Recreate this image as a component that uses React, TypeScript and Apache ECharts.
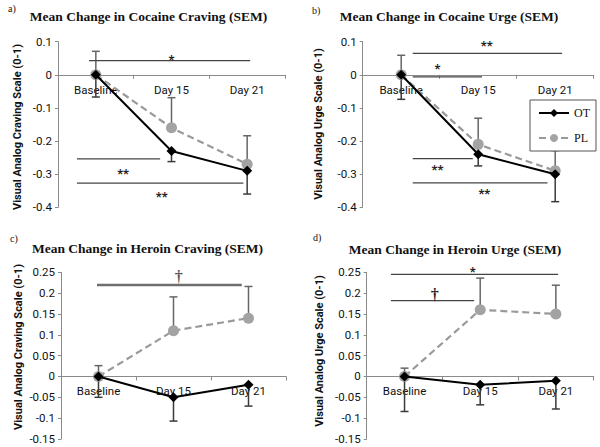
import React, { useEffect, useRef } from "react";
import * as echarts from "echarts";

const categories = ["Baseline", "Day 15", "Day 21"];

// Panel a: Cocaine Craving
const aOT = [0, -0.23, -0.29];
const aPL = [0, -0.16, -0.27];
const aPLUpper = [0.071, -0.069, -0.184];
const aOTLower = [-0.067, -0.262, -0.36];
const aSig = [
  [-0.09, 2.04, 0.043, 1.0, 0.054],
  [-0.25, 0.85, -0.254, 0.36, -0.29],
  [-0.25, 1.95, -0.327, 0.87, -0.357],
];
const aSigText = ["*", "**", "**"];

// Panel b: Cocaine Urge
const bOT = [0, -0.24, -0.3];
const bPL = [0, -0.21, -0.29];
const bPLUpper = [0.059, -0.131, -0.229];
const bOTLower = [-0.074, -0.275, -0.383];
const bSig = [
  [0.15, 2.09, 0.065, 1.11, 0.097],
  [0.15, 1.05, -0.006, 0.47, 0.0275],
  [0.15, 0.93, -0.253, 0.47, -0.278],
  [0.15, 1.9, -0.326, 1.08, -0.35],
];
const bSigText = ["**", "*", "**", "**"];

// Panel c: Heroin Craving
const cOT = [0, -0.05, -0.02];
const cPL = [0, 0.11, 0.14];
const cPLUpper = [0.026, 0.191, 0.216];
const cOTLower = [-0.05, -0.107, -0.071];
const cSig = [[-0.02, 1.91, 0.2195, 1.07, 0.239]];
const cSigText = ["†"];

// Panel d: Heroin Urge
const dOT = [0, -0.02, -0.01];
const dPL = [0, 0.16, 0.15];
const dPLUpper = [0.02, 0.236, 0.219];
const dOTLower = [-0.084, -0.068, -0.078];
const dSig = [
  [-0.18, 2.03, 0.245, 0.9, 0.258],
  [-0.18, 0.92, 0.182, 0.4, 0.197],
];
const dSigText = ["*", "†"];

const titles = [
  "Mean Change in Cocaine Craving (SEM)",
  "Mean Change in Cocaine Urge (SEM)",
  "Mean Change in Heroin Craving (SEM)",
  "Mean Change in Heroin Urge (SEM)",
];
const letters = ["a)", "b)", "c)", "d)"];
const yNames = [
  "Visual Analog Craving Scale (0-1)",
  "Visual Analog Urge Scale (0-1)",
  "Visual Analog Craving Scale (0-1)",
  "Visual Analog Urge Scale (0-1)",
];
const yRanges = [
  [-0.4, 0.1, 0.1],
  [-0.4, 0.1, 0.1],
  [-0.15, 0.25, 0.05],
  [-0.15, 0.25, 0.05],
];

const panels = [
  { ot: aOT, pl: aPL, up: aPLUpper, lo: aOTLower, sig: aSig, sigText: aSigText },
  { ot: bOT, pl: bPL, up: bPLUpper, lo: bOTLower, sig: bSig, sigText: bSigText },
  { ot: cOT, pl: cPL, up: cPLUpper, lo: cOTLower, sig: cSig, sigText: cSigText },
  { ot: dOT, pl: dPL, up: dPLUpper, lo: dOTLower, sig: dSig, sigText: dSigText },
];

// layout
const grids = [
  { left: 58, top: 41.7, width: 227, height: 165.6 },
  { left: 362.7, top: 41.7, width: 231, height: 165.6 },
  { left: 61, top: 272.3, width: 225, height: 166.7 },
  { left: 366.7, top: 272.3, width: 227, height: 166.7 },
];
const titlePos = [
  [148.5, 16],
  [449, 16],
  [147.5, 248],
  [455, 249],
];
const letterPos = [
  [8, 8],
  [312, 10],
  [10, 238],
  [313, 237],
];
const yNamePos = [
  [17, 127],
  [318, 124],
  [18, 347],
  [319, 351],
];

export default function App() {
  const ref = useRef<HTMLDivElement>(null);
  useEffect(() => {
    if (!ref.current) return;
    const chart = echarts.init(ref.current, undefined, { renderer: "svg" });

    const xAxes: any[] = [];
    const yAxes: any[] = [];
    const series: any[] = [];
    const graphics: any[] = [];

    panels.forEach((p, i) => {
      const [mn, mx, iv] = yRanges[i];
      // lift the category axis from the grid bottom up to the value 0
      const zeroOffset = -(grids[i].height * (0 - mn)) / (mx - mn);
      xAxes.push({
        type: "category",
        gridIndex: i,
        data: categories,
        boundaryGap: true,
        position: "bottom",
        offset: zeroOffset,
        axisLine: { show: true, onZero: false, lineStyle: { color: "#8a8a8a", width: 1 } },
        axisTick: { show: true, length: 4, inside: false, lineStyle: { color: "#8a8a8a" } },
        axisLabel: {
          margin: 9,
          fontSize: 11.5,
          fontFamily: "Roboto",
          color: "#111",
        },
        splitLine: { show: false },
      });
      xAxes.push({
        type: "value",
        gridIndex: i,
        show: false,
        min: -0.5,
        max: 2.5,
        position: "top",
        axisLine: { onZero: false },
      });
      yAxes.push({
        type: "value",
        gridIndex: i,
        min: mn,
        max: mx,
        interval: iv,
        position: "left",
        axisLine: { show: true, onZero: false, lineStyle: { color: "#8a8a8a", width: 1 } },
        axisTick: { show: true, length: 3, lineStyle: { color: "#8a8a8a" } },
        axisLabel: {
          margin: 6,
          fontSize: 11.5,
          fontFamily: "Roboto",
          color: "#111",
          formatter: (v: number) => String(Math.round(v * 100) / 100),
        },
        splitLine: { show: false },
      });

      // error bars (behind markers)
      const errData: number[][] = [];
      p.up.forEach((u, k) => errData.push([k, p.pl[k], u, 0]));
      p.lo.forEach((l, k) => errData.push([k, p.ot[k], l, 1]));
      series.push({
        type: "custom",
        name: "err" + i,
        xAxisIndex: 2 * i,
        yAxisIndex: i,
        z: 1,
        silent: true,
        data: errData,
        renderItem: (params: any, api: any) => {
          const x = api.value(0);
          const p1 = api.coord([x, api.value(1)]);
          const p2 = api.coord([x, api.value(2)]);
          const stroke = api.value(3) === 0 ? "#666" : "#3a3a3a";
          const cap = 4;
          return {
            type: "group",
            children: [
              {
                type: "line",
                shape: { x1: p1[0], y1: p1[1], x2: p2[0], y2: p2[1] },
                style: { stroke, lineWidth: 1.5 },
              },
              {
                type: "line",
                shape: { x1: p2[0] - cap, y1: p2[1], x2: p2[0] + cap, y2: p2[1] },
                style: { stroke, lineWidth: 1.5 },
              },
            ],
          };
        },
      });

      series.push({
        type: "line",
        name: "PL",
        xAxisIndex: 2 * i,
        yAxisIndex: i,
        data: p.pl,
        z: 3,
        symbol: "circle",
        symbolSize: 11,
        itemStyle: { color: "#a3a3a3" },
        lineStyle: { color: "#9a9a9a", width: 2.2, type: [7, 4] },
      });
      series.push({
        type: "line",
        name: "OT",
        xAxisIndex: 2 * i,
        yAxisIndex: i,
        data: p.ot,
        z: 4,
        symbol: "diamond",
        symbolSize: 10,
        itemStyle: { color: "#000" },
        lineStyle: { color: "#000", width: 2 },
      });

      const thick = i === 2;
      const texts = p.sigText;
      series.push({
        type: "custom",
        name: "sig" + i,
        xAxisIndex: 2 * i + 1,
        yAxisIndex: i,
        z: 2,
        silent: true,
        data: p.sig,
        renderItem: (params: any, api: any) => {
          const a = api.coord([api.value(0), api.value(2)]);
          const b = api.coord([api.value(1), api.value(2)]);
          const t = api.coord([api.value(3), api.value(4)]);
          const txt = texts[params.dataIndex];
          const isStar = txt.indexOf("*") >= 0;
          return {
            type: "group",
            children: [
              {
                type: "line",
                shape: { x1: a[0], y1: a[1], x2: b[0], y2: b[1] },
                style: { stroke: thick ? "#6e6e6e" : "#444", lineWidth: thick ? 2.6 : 1.3 },
              },
              {
                type: "text",
                x: t[0],
                y: t[1] + (isStar ? 3 : 0),
                style: {
                  text: txt,
                  fill: thick ? "#555" : "#222",
                  font: isStar ? "bold 13px Roboto" : "bold 16px 'Liberation Serif'",
                  align: "center",
                  verticalAlign: "middle",
                  textAlign: "center",
                  textVerticalAlign: "middle",
                },
              },
            ],
          };
        },
      });

      graphics.push({
        type: "text",
        x: titlePos[i][0],
        y: titlePos[i][1],
        style: {
          text: titles[i],
          font: "bold 13.5px 'Liberation Serif'",
          fill: "#111",
          align: "center",
          verticalAlign: "middle",
          textAlign: "center",
          textVerticalAlign: "middle",
        },
      });
      graphics.push({
        type: "text",
        x: letterPos[i][0],
        y: letterPos[i][1],
        style: {
          text: letters[i],
          font: "10px 'Liberation Serif'",
          fill: "#111",
          align: "left",
          verticalAlign: "middle",
          textAlign: "left",
          textVerticalAlign: "middle",
        },
      });
      graphics.push({
        type: "text",
        x: yNamePos[i][0],
        y: yNamePos[i][1],
        rotation: Math.PI / 2,
        style: {
          text: yNames[i],
          font: "bold 11px Roboto",
          fill: "#111",
          align: "center",
          verticalAlign: "middle",
          textAlign: "center",
          textVerticalAlign: "middle",
        },
      });
    });

    chart.setOption({
      animation: false,
      backgroundColor: "#fff",
      grid: grids.map((g) => ({ ...g, containLabel: false })),
      xAxis: xAxes,
      yAxis: yAxes,
      legend: {
        data: ["OT", "PL"],
        orient: "vertical",
        left: 530,
        top: 100,
        width: 67,
        padding: [7, 6, 7, 8],
        itemGap: 13,
        itemWidth: 30,
        itemHeight: 10,
        borderColor: "#555",
        borderWidth: 1,
        backgroundColor: "#fff",
        selectedMode: false,
        textStyle: { fontFamily: "Liberation Serif", fontSize: 12, color: "#111", padding: [0, 6, 0, 0] },
      },
      graphic: graphics,
      series,
    });

    return () => chart.dispose();
  }, []);

  return (
    <div
      ref={ref}
      style={{ position: "fixed", left: 0, top: 0, width: 600, height: 447, background: "#fff" }}
    />
  );
}
